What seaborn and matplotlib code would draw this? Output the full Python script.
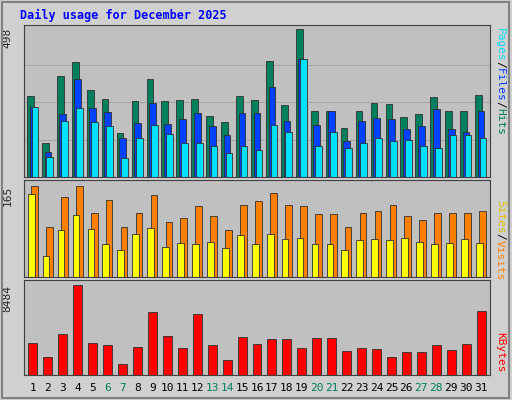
import numpy as np
import seaborn as sns
import matplotlib
matplotlib.use("Agg")
import matplotlib.pyplot as plt

# values
days = list(range(1, 32))
weekends = [6, 7, 13, 14, 20, 21, 27, 28]
hits = [272, 112, 337, 384, 292, 261, 146, 254, 328, 254, 257, 261, 203, 183, 271, 257, 389, 240, 496, 220, 220, 163, 220, 247, 244, 200, 210, 267, 220, 220, 274]
files = [234, 85, 210, 328, 230, 217, 129, 180, 247, 176, 193, 213, 169, 142, 213, 213, 301, 186, 396, 173, 220, 119, 186, 196, 193, 159, 169, 227, 159, 152, 220]
pages = [234, 68, 186, 230, 183, 169, 64, 129, 173, 145, 115, 112, 102, 81, 105, 91, 173, 149, 396, 105, 152, 98, 112, 129, 119, 125, 102, 98, 139, 139, 129]
visits = [165, 90, 144, 165, 115, 139, 90, 115, 148, 100, 106, 128, 110, 84, 130, 137, 152, 130, 128, 113, 113, 90, 115, 119, 130, 110, 102, 115, 115, 115, 119]
sites = [150, 38, 84, 112, 86, 59, 48, 77, 88, 55, 62, 60, 64, 53, 75, 60, 77, 68, 71, 60, 60, 49, 66, 68, 66, 71, 64, 60, 62, 68, 62]
kbytes = [3002, 1736, 3875, 8484, 3002, 2809, 1061, 2617, 6002, 3683, 2520, 5809, 2809, 1447, 3584, 2907, 3392, 3392, 2520, 3487, 3487, 2231, 2520, 2424, 1736, 2134, 2134, 2809, 2328, 2907, 6100]

bg = "#C0C0C0"
sns.set_style("white")
plt.rcParams["font.family"] = ["DejaVu Sans Mono"]

fig = plt.figure(figsize=(5.12, 4.0), dpi=100, facecolor="#D0D0D0")
fig.patches.append(plt.Rectangle((0.004, 0.005), 0.99, 0.99, transform=fig.transFigure,
                                 fill=False, edgecolor="#808080", lw=1.5))
fig.text(20/512, 1-15/400, "Daily usage for December 2025", color="#0000FF",
         fontsize=8.5, fontweight="bold", va="center")

x = np.array(days)
L, W = 24/512, 466/512

def panel(top, bottom):
    ax = fig.add_axes([L, 1-bottom/400, W, (bottom-top)/400])
    ax.set_facecolor(bg)
    ax.set_xlim(0.4, 31.6)
    ax.set_xticks([])
    ax.set_yticks([])
    for s in ax.spines.values():
        s.set_color("#404040")
    return ax

ax1 = panel(25, 177)
ax1.set_ylim(0, 508)
for g in np.linspace(0, 498, 5)[1:-1]:
    ax1.axhline(g, color="#A0A0A0", lw=0.6, zorder=0)
for vals, off, col in [(hits, -0.17, "#00805C"), (files, 0.0, "#0040FF"), (pages, 0.13, "#00E0FF")]:
    ax1.bar(x + off, vals, width=0.45, color=col, edgecolor="#303030", lw=0.6, zorder=2)
ax1.text(-0.035, 498, "498", transform=ax1.get_yaxis_transform(), rotation=90,
         ha="center", va="top", fontsize=8)

ax2 = panel(180, 277)
ax2.set_ylim(0, 175)
for vals, off, col in [(visits, 0.1, "#FF8000"), (sites, -0.12, "#FFFF00")]:
    ax2.bar(x + off, vals, width=0.45, color=col, edgecolor="#303030", lw=0.6, zorder=2)
ax2.text(-0.035, 165, "165", transform=ax2.get_yaxis_transform(), rotation=90,
         ha="center", va="top", fontsize=8)

ax3 = panel(280, 375)
ax3.set_ylim(0, 8484 * 1.06)
ax3.bar(x, kbytes, width=0.6, color="#FF0000", edgecolor="#303030", lw=0.6, zorder=2)
ax3.text(-0.035, 8484, "8484", transform=ax3.get_yaxis_transform(), rotation=90,
         ha="center", va="top", fontsize=8)

for d in days:
    fig.text(L + W * (d - 0.4) / 31.2, 1-388/400, str(d), ha="center", va="center",
             fontsize=8, color="#00805C" if d in weekends else "black")

def side(y_top, parts):
    y = y_top
    for txt, col in parts:
        fig.text(500/512, 1-y/400, txt, rotation=-90, color=col, fontsize=8,
                 ha="center", va="top")
        y += len(txt) * 6.67

side(28, [("Pages", "#00E0FF"), ("/", "black"), ("Files", "#0040FF"),
          ("/", "black"), ("Hits", "#00805C")])
side(200, [("Sites", "#E0C000"), ("/", "black"), ("Visits", "#FF8000")])
side(332, [("KBytes", "#FF0000")])

fig.savefig("out.png", dpi=100, facecolor=fig.get_facecolor())
